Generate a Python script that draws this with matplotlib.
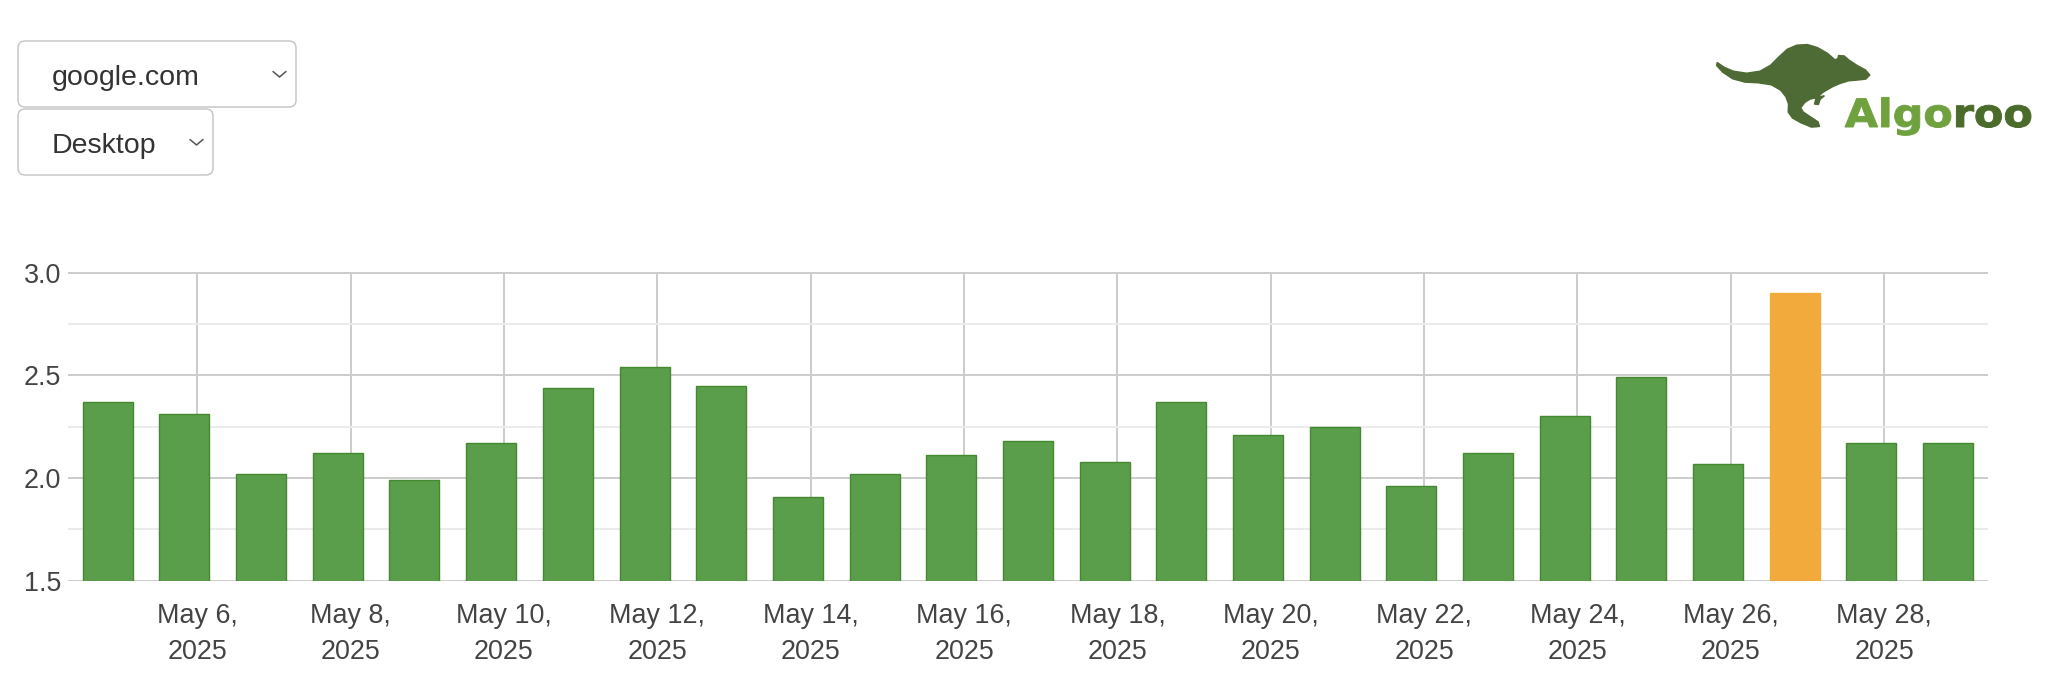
import matplotlib
matplotlib.use('Agg')
import matplotlib.pyplot as plt
import matplotlib.dates as mdates
from matplotlib.patches import FancyBboxPatch, Polygon, PathPatch
from matplotlib.textpath import TextPath
from matplotlib.font_manager import FontProperties
from matplotlib.transforms import Affine2D
import pandas as pd

plt.rcParams['font.family'] = ['Liberation Sans', 'DejaVu Sans']

# daily values, May 5 - May 29 2025
days = pd.date_range('2025-05-05', '2025-05-29', freq='D')
values = [2.37, 2.31, 2.02, 2.12, 1.99, 2.17, 2.44, 2.54, 2.45, 1.91,
          2.02, 2.11, 2.18, 2.08, 2.37, 2.21, 2.25, 1.96, 2.12, 2.30,
          2.49, 2.07, 2.90, 2.17, 2.17]
highlight_day = pd.Timestamp('2025-05-27')
tick_days = days[1::2]
y_ticks = [1.5, 2.0, 2.5, 3.0]
y_minor = [1.75, 2.25, 2.75]
site_choice = 'google.com'
device_choice = 'Desktop'

GREEN = '#5a9e4b'
GREEN_EDGE = '#43892f'
ORANGE = '#f1aa3b'
GRID = '#cccccc'
GRID_MINOR = '#ebebeb'
TEXT = '#444444'

W, H = 2052, 680
fig = plt.figure(figsize=(W / 100, H / 100), dpi=100)

# overlay in pixel units for the page furniture (dropdowns, logo)
ui = fig.add_axes([0, 0, 1, 1])
ui.set_xlim(0, W)
ui.set_ylim(H, 0)
ui.axis('off')

def dropdown(x0, y0, x1, y1, label, chev_x):
    box = FancyBboxPatch((x0, y0), x1 - x0, y1 - y0,
                         boxstyle='round,pad=0,rounding_size=7',
                         fc='white', ec='#c8c8c8', lw=1.1)
    ui.add_patch(box)
    cy = (y0 + y1) / 2
    ui.text(x0 + 34, cy + 11, label, fontsize=20.5, color='#333333', va='baseline')
    ui.plot([chev_x - 6.5, chev_x, chev_x + 6.5], [cy - 2.5, cy + 3, cy - 2.5],
            color='#555555', lw=1.1, solid_capstyle='round')

dropdown(18, 41, 296, 107, site_choice, 279.5)
dropdown(18, 109, 213, 175, device_choice, 196.5)

# kangaroo silhouette (outline traced at 3x, origin at 1700,30)
outline = [(52, 98), (72, 112), (100, 124), (140, 130), (180, 124), (212, 106),
           (238, 80), (262, 58), (290, 46), (322, 44), (352, 53), (382, 70),
           (405, 90), (414, 86), (416, 77), (432, 78), (446, 90), (470, 106),
           (496, 120), (509, 135), (497, 147), (470, 150), (446, 152), (420, 160),
           (397, 170), (368, 187), (348, 206), (344, 222), (355, 223), (360, 208),
           (372, 198), (330, 207), (314, 217), (302, 233), (309, 246), (333, 262),
           (354, 276), (358, 289), (335, 291), (303, 278), (278, 264), (265, 246),
           (266, 222), (258, 200), (242, 180), (214, 164), (175, 158), (135, 156),
           (98, 146), (68, 126), (50, 106)]
outline = [(1700 + px / 3, 30 + py / 3) for px, py in outline]
ui.add_patch(Polygon(outline, closed=True, fc='#4e6b35', ec='#4e6b35', lw=1.2,
                     joinstyle='round'))

fp = FontProperties(family='DejaVu Sans', weight='bold')
full = TextPath((0, 0), 'Algoroo', size=1, prop=fp)
part1 = TextPath((0, 0), 'Algo', size=1, prop=fp)
part2 = TextPath((0, 0), 'roo', size=1, prop=fp)
fe = full.get_extents()
cap = TextPath((0, 0), 'A', size=1, prop=fp).get_extents().y1
sx = 186 / fe.width
sy = 28.4 / cap
base = Affine2D().scale(sx, -sy).translate(1845 - fe.x0 * sx, 127)
shift = fe.x1 - part2.get_extents().x1
ui.add_patch(PathPatch(part1, fc='#6fa23f', ec='#6fa23f', lw=0.7,
                       transform=base + ui.transData))
ui.add_patch(PathPatch(part2, fc='#4a6b2a', ec='#4a6b2a', lw=0.7,
                       transform=Affine2D().translate(shift, 0) + base + ui.transData))

# chart
ax = fig.add_axes([68.3 / W, 1 - 581.3 / H, (1988 - 68.3) / W, (581.3 - 272.1) / H])
x = mdates.date2num(days)
colors = [ORANGE if d == highlight_day else GREEN for d in days]
edges = [ORANGE if d == highlight_day else GREEN_EDGE for d in days]
ax.bar(x, values, width=0.652, bottom=0, color=colors, edgecolor=edges, lw=1.0, zorder=3)

ax.set_ylim(1.497, 3.003)
ax.set_xlim(x[0] - 0.514, x[-1] + 0.52)
ax.set_yticks(y_ticks)
ax.set_yticks(y_minor, minor=True)
ax.set_yticklabels([f'{v:.1f}' for v in y_ticks])
# the axis dates sit 4 hours after the bar dates (time zone offset)
ax.set_xticks(mdates.date2num(tick_days) + 4 / 24)
ax.set_xticklabels([f'{d:%b} {d.day},\n{d.year}' for d in tick_days], linespacing=1.5)

ax.grid(which='major', axis='y', color=GRID, lw=1.4)
ax.grid(which='minor', axis='y', color=GRID_MINOR, lw=1.4)
ax.grid(which='major', axis='x', color=GRID, lw=1.4)
ax.set_axisbelow(True)
for s in ax.spines.values():
    s.set_visible(False)
ax.tick_params(axis='both', which='both', length=0, labelsize=19.4, labelcolor=TEXT)
ax.tick_params(axis='x', pad=15.5)
ax.tick_params(axis='y', pad=5)

fig.savefig('out.png', dpi=100, facecolor='white')
